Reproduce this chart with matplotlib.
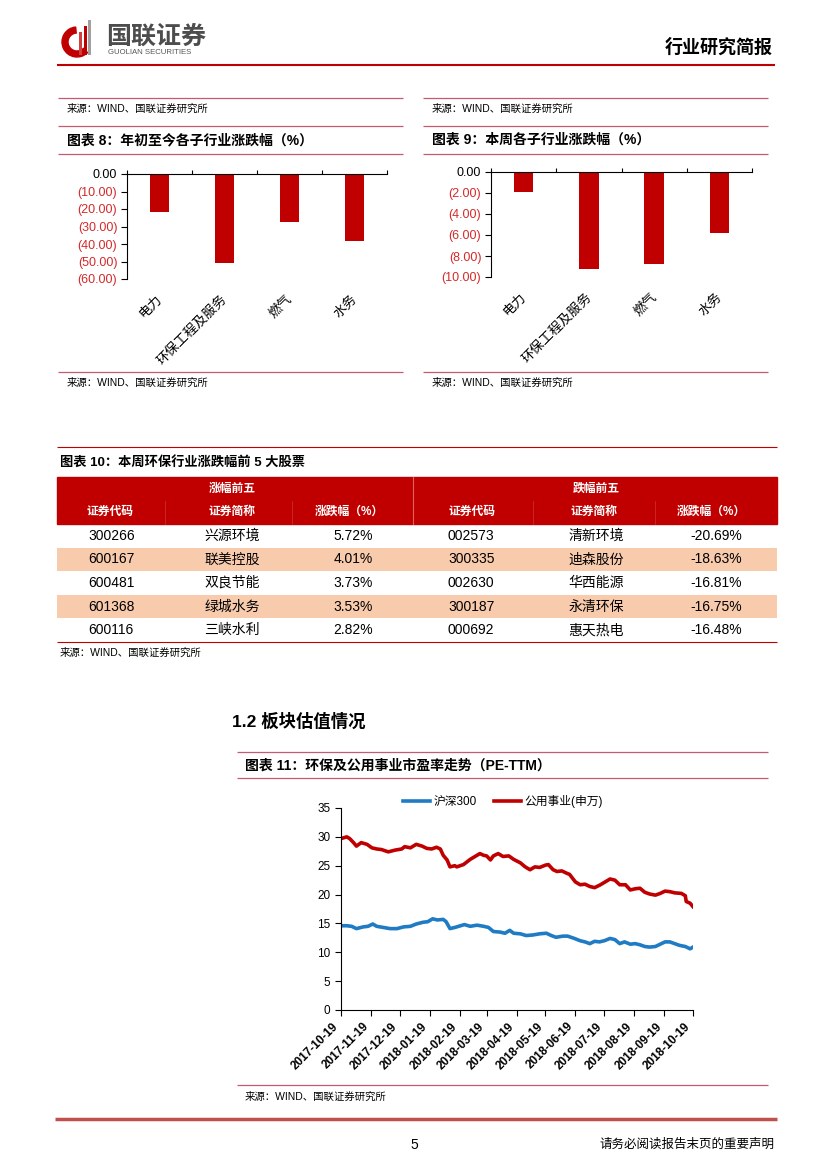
import numpy as np
import pandas as pd
import matplotlib
matplotlib.use('Agg')
import matplotlib.pyplot as plt
from matplotlib.patches import Rectangle, Wedge

plt.rcParams['font.family'] = ['Liberation Sans', 'Noto Sans CJK SC', 'DejaVu Sans']
plt.rcParams['axes.unicode_minus'] = False

# ---- data ----
sub_industries = ['电力', '环保工程及服务', '燃气', '水务']
ytd_change = [-21.5, -51.0, -27.7, -38.0]
week_change = [-1.94, -9.20, -8.79, -5.83]

gain_codes = ['300266', '600167', '600481', '601368', '600116']
gain_names = ['兴源环境', '联美控股', '双良节能', '绿城水务', '三峡水利']
gain_pct = [5.72, 4.01, 3.73, 3.53, 2.82]
loss_codes = ['002573', '300335', '002630', '300187', '000692']
loss_names = ['清新环境', '迪森股份', '华西能源', '永清环保', '惠天热电']
loss_pct = [-20.69, -18.63, -16.81, -16.75, -16.48]
table_head = ['证券代码', '证券简称', '涨跌幅（%）']

utility_dates = ['2017-10-19', '2017-10-25', '2017-10-28', '2017-11-01', '2017-11-04', '2017-11-09',
                 '2017-11-15', '2017-11-20', '2017-11-25', '2017-11-30', '2017-12-07', '2017-12-14',
                 '2017-12-21', '2017-12-24', '2017-12-30', '2018-01-05', '2018-01-11', '2018-01-16',
                 '2018-01-21', '2018-01-26', '2018-01-30', '2018-02-02', '2018-02-06', '2018-02-09',
                 '2018-02-14', '2018-02-16', '2018-02-23', '2018-03-02', '2018-03-09', '2018-03-12',
                 '2018-03-16', '2018-03-19', '2018-03-23', '2018-03-26', '2018-03-31', '2018-04-05',
                 '2018-04-11', '2018-04-16', '2018-04-23', '2018-04-28', '2018-05-03', '2018-05-08',
                 '2018-05-13', '2018-05-19', '2018-05-22', '2018-05-27', '2018-05-31', '2018-06-05',
                 '2018-06-10', '2018-06-13', '2018-06-19', '2018-06-24', '2018-06-29', '2018-07-04',
                 '2018-07-09', '2018-07-15', '2018-07-20', '2018-07-25', '2018-07-30', '2018-08-04',
                 '2018-08-10', '2018-08-15', '2018-08-20', '2018-08-25', '2018-08-30', '2018-09-04',
                 '2018-09-10', '2018-09-15', '2018-09-20', '2018-09-25', '2018-09-30', '2018-10-07',
                 '2018-10-11', '2018-10-12', '2018-10-16', '2018-10-19']
utility_pe = [29.7, 30.0, 29.7, 29.0, 28.4, 29.0, 28.7, 28.1, 27.9, 27.8, 27.4, 27.7,
              27.9, 28.3, 28.1, 28.7, 28.4, 28.0, 27.9, 28.2, 27.9, 26.8, 26.0, 24.8,
              25.0, 24.8, 25.2, 26.1, 26.8, 27.1, 26.8, 26.7, 26.0, 26.7, 27.1, 26.6,
              26.7, 26.1, 25.5, 24.8, 24.3, 24.8, 24.7, 25.1, 25.2, 24.3, 24.0, 24.1,
              23.7, 23.5, 22.2, 21.7, 21.8, 21.4, 21.2, 21.7, 22.2, 22.7, 22.5, 21.7,
              21.7, 20.8, 21.0, 21.1, 20.4, 20.1, 19.9, 20.2, 20.6, 20.5, 20.3, 20.2,
              19.8, 18.8, 18.5, 17.9]

hs300_dates = ['2017-10-19', '2017-10-25', '2017-10-30', '2017-11-04', '2017-11-11', '2017-11-16',
               '2017-11-21', '2017-11-25', '2017-12-02', '2017-12-09', '2017-12-16', '2017-12-23',
               '2017-12-30', '2018-01-05', '2018-01-12', '2018-01-17', '2018-01-22', '2018-01-27',
               '2018-02-02', '2018-02-05', '2018-02-09', '2018-02-14', '2018-02-24', '2018-03-02',
               '2018-03-09', '2018-03-16', '2018-03-21', '2018-03-26', '2018-04-02', '2018-04-07',
               '2018-04-12', '2018-04-16', '2018-04-23', '2018-04-29', '2018-05-06', '2018-05-13',
               '2018-05-20', '2018-05-25', '2018-05-30', '2018-06-06', '2018-06-11', '2018-06-18',
               '2018-06-24', '2018-06-29', '2018-07-04', '2018-07-09', '2018-07-14', '2018-07-19',
               '2018-07-25', '2018-07-30', '2018-08-04', '2018-08-09', '2018-08-15', '2018-08-20',
               '2018-08-25', '2018-08-30', '2018-09-04', '2018-09-10', '2018-09-15', '2018-09-20',
               '2018-09-25', '2018-09-30', '2018-10-05', '2018-10-11', '2018-10-16', '2018-10-19']
hs300_pe = [14.6, 14.6, 14.5, 14.1, 14.4, 14.5, 14.9, 14.5, 14.3, 14.1, 14.1, 14.4,
            14.5, 14.9, 15.2, 15.3, 15.8, 15.6, 15.7, 15.3, 14.1, 14.3, 14.8, 14.5,
            14.7, 14.5, 14.3, 13.6, 13.5, 13.3, 13.8, 13.3, 13.2, 12.9, 13.0, 13.2,
            13.3, 12.9, 12.6, 12.8, 12.8, 12.4, 12.0, 11.8, 11.5, 11.9, 11.8, 12.0,
            12.4, 12.2, 11.5, 11.8, 11.4, 11.5, 11.3, 11.0, 10.9, 11.0, 11.4, 11.8,
            11.8, 11.5, 11.2, 11.0, 10.6, 10.9]

date_ticks = ['2017-10-19', '2017-11-19', '2017-12-19', '2018-01-19', '2018-02-19', '2018-03-19',
              '2018-04-19', '2018-05-19', '2018-06-19', '2018-07-19', '2018-08-19', '2018-09-19',
              '2018-10-19']

source = '来源：WIND、国联证券研究所'

# ---- page ----
W, H = 827, 1169
RED = '#C00000'
LINE = '#C65A70'
PEACH = '#F8CBAD'

fig = plt.figure(figsize=(W / 100, H / 100), dpi=100)
page = fig.add_axes([0, 0, 1, 1])
page.set_xlim(0, W)
page.set_ylim(H, 0)
page.axis('off')


def px_axes(l, t, r, b):
    return fig.add_axes([l / W, 1 - b / H, (r - l) / W, (b - t) / H])


def hline(y, x0, x1, color=LINE, lw=0.9):
    page.plot([x0, x1], [y, y], color=color, lw=lw, solid_capstyle='butt')


# header / logo
page.add_patch(Wedge((77, 42), 15, 45, 265, width=6, color=RED))
for bx, bt, c in [(79, 32, '#D04040'), (83.5, 26, RED), (88, 20, '#A0A0A0')]:
    page.add_patch(Rectangle((bx, bt), 3, 55 - bt, color=c, lw=0))
page.text(106, 37, '国联证券', fontsize=18, fontweight='bold', color='#4D4D4D', va='center')
page.text(108, 53, 'GUOLIAN SECURITIES', fontsize=5.6, color='#555555', va='center')
page.text(773, 48, '行业研究简报', fontsize=13, fontweight='bold', ha='right', va='center')
hline(65, 57, 775, RED, 1.5)

# figures 8 and 9 frames
titles = ['图表 8：年初至今各子行业涨跌幅（%）', '图表 9：本周各子行业涨跌幅（%）']
for (x0, x1), title in zip([(58, 403), (423, 768)], titles):
    for y in [98, 126, 154, 372]:
        hline(y, x0, x1)
    page.text(x0 + 9, 109, source, fontsize=7.5, va='center')
    page.text(x0 + 9, 383, source, fontsize=7.5, va='center')
    page.text(x0 + 9, 140, title, fontsize=10, fontweight='bold', va='center')


def bar_chart(ax, values, low, step):
    x = np.arange(len(sub_industries))
    ax.bar(x, values, width=0.3, color=RED)
    ax.set_xlim(-0.5, len(sub_industries) - 0.5)
    ax.set_ylim(low, 0)
    ticks = np.arange(low, 0.001, step)
    ax.set_yticks(ticks)
    labels = ['0.00' if v == 0 else '(%.2f)' % abs(v) for v in ticks]
    ax.set_yticklabels(labels, fontsize=9)
    for t, v in zip(ax.get_yticklabels(), ticks):
        t.set_color('black' if v == 0 else '#D42A2A')
    ax.set_xticks(x + 0.08)
    ax.set_xticklabels(sub_industries, rotation=45, ha='right', fontsize=9.5)
    ax.set_xticks(np.arange(-0.5, len(sub_industries)), minor=True)
    ax.tick_params(axis='x', which='major', length=0, pad=10)
    ax.tick_params(axis='x', which='minor', bottom=False, top=True, direction='out', length=3, width=0.8)
    ax.tick_params(axis='y', direction='out', length=4, width=0.8, pad=3)
    for s in ['right', 'bottom']:
        ax.spines[s].set_visible(False)
    for s in ['left', 'top']:
        ax.spines[s].set_linewidth(0.8)


bar_chart(px_axes(127, 174, 387, 279), ytd_change, -60, 10)
bar_chart(px_axes(491, 172, 752, 277), week_change, -10, 2)

# table 10
hline(447, 57, 777, RED, 0.8)
page.text(60, 462, '图表 10：本周环保行业涨跌幅前 5 大股票', fontsize=9.5, fontweight='bold', va='center')
page.add_patch(Rectangle((57, 477), 720, 47, color=RED))
page.plot([413, 413], [477, 524], color='#E06060', lw=0.8)
for xs in [165, 292, 533, 655]:
    page.plot([xs, xs], [501, 524], color='#CC2A2A', lw=0.6)
page.text(232, 489, '涨幅前五', fontsize=8.5, fontweight='bold', color='white', ha='center', va='center')
page.text(596, 489, '跌幅前五', fontsize=8.5, fontweight='bold', color='white', ha='center', va='center')
for xc, h in zip([110, 232, 349, 472, 594, 711], table_head * 2):
    page.text(xc, 512, h, fontsize=8.5, fontweight='bold', color='white', ha='center', va='center')

row_h = 23.6
for i in range(len(gain_codes)):
    top = 524 + i * row_h
    yc = top + row_h / 2
    if i % 2 == 1:
        page.add_patch(Rectangle((57, top), 720, row_h, color=PEACH, lw=0))
    page.text(88, yc, gain_codes[i], fontsize=10, va='center')
    page.text(232, yc, gain_names[i], fontsize=10, ha='center', va='center')
    page.text(373, yc, '%.2f%%' % gain_pct[i], fontsize=10, ha='right', va='center')
    page.text(448, yc, loss_codes[i], fontsize=10, va='center')
    page.text(596, yc, loss_names[i], fontsize=10, ha='center', va='center')
    page.text(742, yc, '%.2f%%' % loss_pct[i], fontsize=10, ha='right', va='center')
hline(642, 57, 777, RED, 0.8)
page.text(60, 653, source, fontsize=7.5, va='center')

# section 1.2 and figure 11
page.text(232, 721, '1.2 板块估值情况', fontsize=12.5, fontweight='bold', va='center')
hline(752, 237, 768)
hline(778, 237, 768)
page.text(245, 766, '图表 11：环保及公用事业市盈率走势（PE-TTM）', fontsize=10, fontweight='bold', va='center')

ax = px_axes(341, 808, 693, 1010)
hs = pd.DataFrame({'date': pd.to_datetime(hs300_dates), 'pe': hs300_pe})
ut = pd.DataFrame({'date': pd.to_datetime(utility_dates), 'pe': utility_pe})
ax.plot(hs['date'], hs['pe'], color='#1F7CC4', lw=2.6, label='沪深300')
ax.plot(ut['date'], ut['pe'], color=RED, lw=2.6, label='公用事业(申万)')
ax.set_ylim(0, 35)
ax.set_yticks(np.arange(0, 36, 5))
ax.set_xlim(pd.Timestamp(date_ticks[0]), pd.Timestamp(date_ticks[-1]))
ax.set_xticks(pd.to_datetime(date_ticks))
ax.set_xticklabels(date_ticks, rotation=45, ha='right', fontsize=8.5, fontweight='bold')
ax.tick_params(axis='y', labelsize=8.5, length=4, width=0.8)
ax.tick_params(axis='x', length=4, width=0.8)
ax.spines['top'].set_visible(False)
ax.spines['right'].set_visible(False)
fig.legend(loc='center', bbox_to_anchor=(503 / W, 1 - 802 / H), ncol=2, frameon=False,
           fontsize=8.5, handlelength=2.3, handletextpad=0.3, columnspacing=1.4)

hline(1085, 237, 768)
page.text(245, 1097, source, fontsize=7.5, va='center')

# footer
hline(1119, 55, 777, '#C0504D', 2.5)
page.text(414, 1145, '5', fontsize=10, ha='center', va='center')
page.text(775, 1145, '请务必阅读报告末页的重要声明', fontsize=9, ha='right', va='center')

fig.savefig('out.png', dpi=100)
